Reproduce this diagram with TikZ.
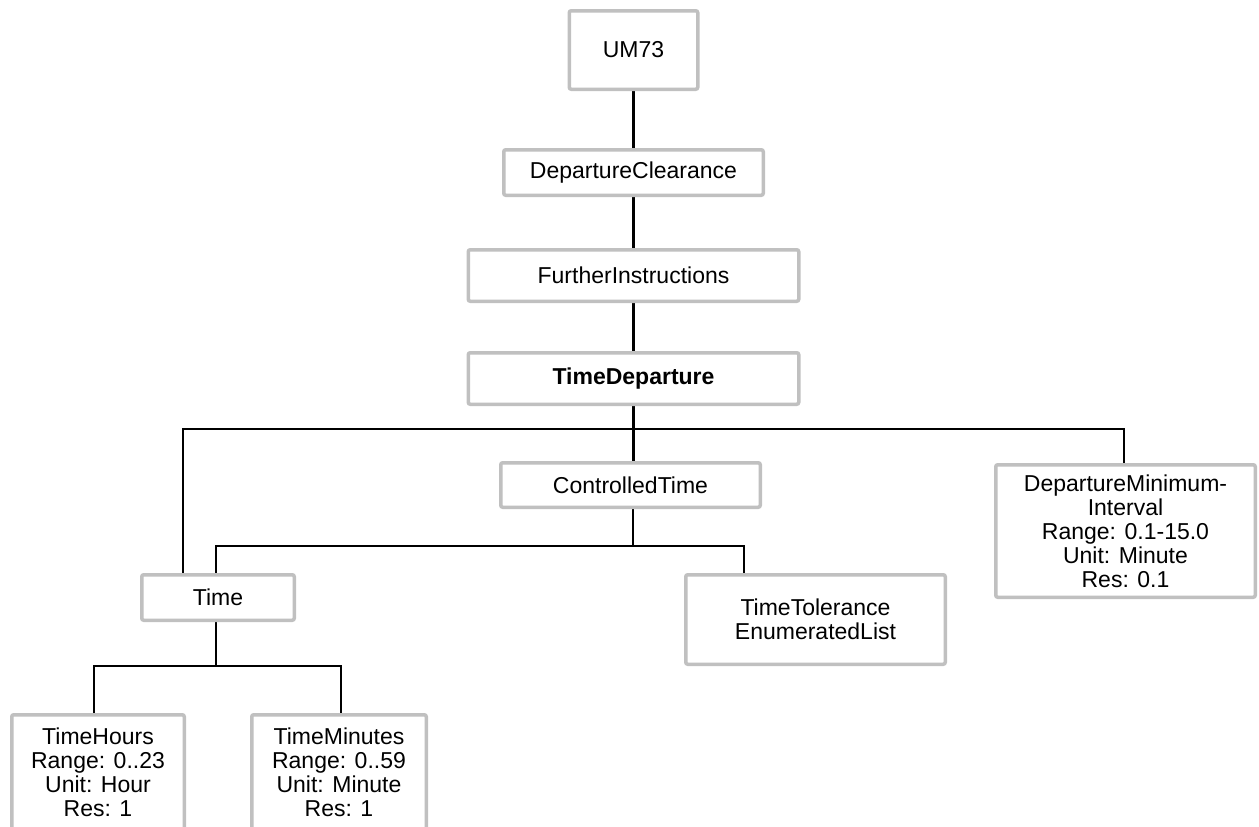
\documentclass[tikz,border=0pt]{standalone}
\usepackage{fontspec}
\setmainfont{Liberation Sans}
\usetikzlibrary{backgrounds}
\definecolor{boxgray}{HTML}{C0C0C0}
\begin{document}
\begin{tikzpicture}[x=1pt,y=-1pt,
  box/.style={draw=boxgray, line width=3.5pt, rounded corners=2pt, fill=white,
    align=center, inner sep=0pt, font=\fontsize{23}{24}\selectfont},
  wire/.style={line width=2.8pt, black}]
\useasboundingbox (0,0) rectangle (1259,827);
\clip (0,0) rectangle (1259,827);

% message tree boxes
\node[box, minimum width=128.5pt, minimum height=78.5pt] (um) at (633.5,50) {UM73};
\node[box, minimum width=259.5pt, minimum height=45.5pt] (dc) at (633.5,172.5) {DepartureClearance};
\node[box, minimum width=330.5pt, minimum height=51.5pt] (fi) at (633.5,275.5) {FurtherInstructions};
\node[box, minimum width=330.5pt, minimum height=51.5pt] (td) at (633.5,378.5) {\bfseries TimeDeparture};
\node[box, minimum width=259.5pt, minimum height=44.5pt] (ct) at (630.5,485) {ControlledTime};
\node[box, minimum width=259.5pt, minimum height=132.5pt] (dmi) at (1125.5,531) {DepartureMinimum-\\Interval\\Range: 0.1-15.0\\Unit: Minute\\Res: 0.1};
\node[box, minimum width=152.5pt, minimum height=45.5pt] (time) at (218,597.5) {Time};
\node[box, minimum width=259.5pt, minimum height=89.5pt] (ttel) at (815.5,619.5) {TimeTolerance\\EnumeratedList};
\node[box, minimum width=172.5pt, minimum height=115.5pt] (th) at (98,772.5) {TimeHours\\Range: 0..23\\Unit: Hour\\Res: 1};
\node[box, minimum width=174.5pt, minimum height=115.5pt] (tm) at (339,772.5) {TimeMinutes\\Range: 0..59\\Unit: Minute\\Res: 1};

% bus junctions
\coordinate (b1) at (633.5,429);
\coordinate (b1l) at (183,429);
\coordinate (b1r) at (1124,429);
\coordinate (b2) at (633,546);
\coordinate (b2l) at (216,546);
\coordinate (b2r) at (744,546);
\coordinate (b3) at (216,666);
\coordinate (b3l) at (94,666);
\coordinate (b3r) at (341,666);

\begin{pgfonlayer}{background}
  \draw[wire] (um) -- (dc);
  \draw[wire] (dc) -- (fi);
  \draw[wire] (fi) -- (td);
  \draw[wire] (td) -- (b1);
  \draw[wire] (b1l |- time) -- (b1l) -- (b1r) -- (b1r |- dmi);
  \draw[wire] (b1) -- (b1 |- ct);
  \draw[wire] (b2 |- ct) -- (b2);
  \draw[wire] (b2l |- time) -- (b2l) -- (b2r) -- (b2r |- ttel);
  \draw[wire] (b3 |- time) -- (b3);
  \draw[wire] (b3l |- th) -- (b3l) -- (b3r) -- (b3r |- tm);
\end{pgfonlayer}
\end{tikzpicture}
\end{document}
